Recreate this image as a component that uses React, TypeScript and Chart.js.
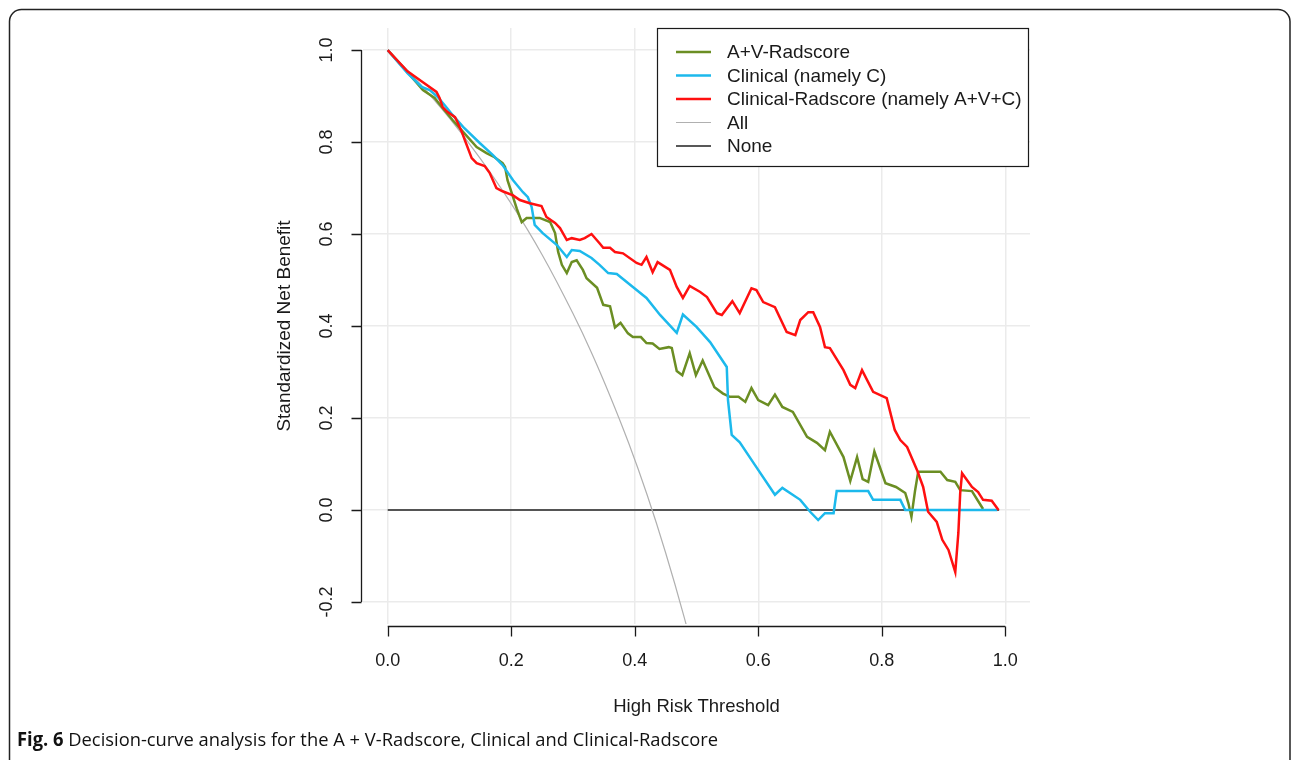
import React, { useEffect, useRef } from "react";
import { Chart, registerables } from "chart.js";

Chart.register(...registerables);

// ---------- data ----------
const xTicks = [0, 0.2, 0.4, 0.6, 0.8, 1.0];
const yTicks = [-0.2, 0, 0.2, 0.4, 0.6, 0.8, 1.0];
const xTickLabels = ["0.0", "0.2", "0.4", "0.6", "0.8", "1.0"];
const yTickLabels = ["-0.2", "0.0", "0.2", "0.4", "0.6", "0.8", "1.0"];
const xTitle = "High Risk Threshold";
const yTitle = "Standardized Net Benefit";
const seriesNames = [
  "A+V-Radscore",
  "Clinical (namely C)",
  "Clinical-Radscore (namely A+V+C)",
  "All",
  "None",
];
const captionBold = "Fig. 6";
const captionText = " Decision-curve analysis for the A + V-Radscore, Clinical and Clinical-Radscore";

const greenT = [0, 0.032, 0.057, 0.076, 0.089, 0.105, 0.122, 0.144, 0.16, 0.173, 0.186, 0.19, 0.194, 0.203, 0.209, 0.217, 0.225, 0.246, 0.263, 0.271, 0.276, 0.282, 0.29, 0.298, 0.306, 0.316, 0.322, 0.339, 0.349, 0.36, 0.368, 0.377, 0.389, 0.397, 0.41, 0.419, 0.429, 0.44, 0.455, 0.46, 0.468, 0.477, 0.489, 0.499, 0.51, 0.529, 0.543, 0.554, 0.568, 0.579, 0.589, 0.6, 0.616, 0.627, 0.639, 0.656, 0.679, 0.695, 0.708, 0.716, 0.738, 0.749, 0.76, 0.769, 0.778, 0.788, 0.806, 0.823, 0.838, 0.843, 0.848, 0.854, 0.859, 0.895, 0.906, 0.919, 0.927, 0.946, 0.964];
const greenV = [1.0, 0.952, 0.913, 0.896, 0.874, 0.848, 0.822, 0.789, 0.776, 0.767, 0.754, 0.746, 0.717, 0.68, 0.655, 0.626, 0.635, 0.635, 0.626, 0.602, 0.561, 0.533, 0.515, 0.539, 0.543, 0.522, 0.504, 0.483, 0.446, 0.443, 0.397, 0.407, 0.384, 0.376, 0.376, 0.363, 0.362, 0.35, 0.354, 0.352, 0.302, 0.293, 0.341, 0.293, 0.325, 0.267, 0.253, 0.246, 0.246, 0.235, 0.265, 0.239, 0.228, 0.251, 0.224, 0.213, 0.159, 0.146, 0.13, 0.17, 0.115, 0.063, 0.115, 0.067, 0.061, 0.127, 0.058, 0.05, 0.037, 0.015, -0.015, 0.043, 0.083, 0.083, 0.065, 0.061, 0.043, 0.041, 0.002];

const blueT = [0, 0.032, 0.055, 0.068, 0.081, 0.096, 0.105, 0.122, 0.149, 0.17, 0.186, 0.203, 0.219, 0.227, 0.233, 0.238, 0.251, 0.274, 0.29, 0.298, 0.311, 0.33, 0.343, 0.357, 0.371, 0.397, 0.419, 0.441, 0.468, 0.478, 0.5, 0.522, 0.549, 0.551, 0.557, 0.57, 0.595, 0.627, 0.639, 0.668, 0.684, 0.697, 0.708, 0.722, 0.727, 0.778, 0.786, 0.83, 0.838, 0.987];
const blueV = [1.0, 0.95, 0.92, 0.913, 0.898, 0.874, 0.859, 0.833, 0.798, 0.772, 0.75, 0.717, 0.691, 0.68, 0.659, 0.62, 0.602, 0.576, 0.55, 0.565, 0.563, 0.548, 0.533, 0.515, 0.513, 0.485, 0.461, 0.424, 0.385, 0.425, 0.398, 0.365, 0.311, 0.239, 0.163, 0.147, 0.097, 0.033, 0.048, 0.022, -0.004, -0.022, -0.007, -0.007, 0.041, 0.041, 0.022, 0.022, 0.0, 0.0];

const redT = [0, 0.032, 0.057, 0.079, 0.084, 0.089, 0.097, 0.109, 0.113, 0.12, 0.125, 0.136, 0.144, 0.157, 0.165, 0.176, 0.186, 0.203, 0.214, 0.23, 0.249, 0.257, 0.271, 0.279, 0.29, 0.298, 0.311, 0.319, 0.33, 0.343, 0.349, 0.36, 0.368, 0.381, 0.403, 0.411, 0.419, 0.429, 0.437, 0.457, 0.468, 0.478, 0.489, 0.506, 0.517, 0.533, 0.541, 0.558, 0.57, 0.589, 0.597, 0.608, 0.627, 0.646, 0.66, 0.668, 0.681, 0.689, 0.7, 0.708, 0.716, 0.738, 0.749, 0.757, 0.768, 0.786, 0.808, 0.821, 0.83, 0.841, 0.857, 0.867, 0.875, 0.889, 0.898, 0.908, 0.919, 0.924, 0.927, 0.93, 0.946, 0.956, 0.964, 0.978, 0.989];
const redV = [1.0, 0.954, 0.93, 0.909, 0.896, 0.876, 0.865, 0.854, 0.843, 0.822, 0.804, 0.765, 0.754, 0.748, 0.733, 0.7, 0.693, 0.684, 0.674, 0.667, 0.661, 0.637, 0.624, 0.613, 0.587, 0.591, 0.587, 0.591, 0.6, 0.58, 0.57, 0.57, 0.561, 0.558, 0.537, 0.533, 0.55, 0.517, 0.539, 0.522, 0.485, 0.461, 0.487, 0.474, 0.463, 0.428, 0.424, 0.454, 0.428, 0.482, 0.478, 0.452, 0.441, 0.387, 0.38, 0.413, 0.43, 0.43, 0.398, 0.354, 0.352, 0.304, 0.272, 0.265, 0.304, 0.257, 0.243, 0.174, 0.152, 0.137, 0.087, 0.05, -0.004, -0.026, -0.065, -0.087, -0.135, -0.05, 0.037, 0.08, 0.05, 0.039, 0.022, 0.02, 0.0];

const allT = [0, 0.05, 0.1, 0.15, 0.2, 0.25, 0.3, 0.33, 0.36, 0.39, 0.42, 0.45, 0.48, 0.5];
const allV = [1.0, 0.93, 0.852, 0.764, 0.666, 0.555, 0.427, 0.342, 0.248, 0.146, 0.033, -0.093, -0.233, -0.336];

const noneT = [0, 0.99];
const noneV = [0, 0];

const colors = ["#6b8e23", "#1cb9ec", "#ff1010", "#b0b0b0", "#202020"];
const widths = [2.5, 2.5, 2.5, 1.2, 1.5];

const toPts = (t: number[], v: number[]) => t.map((x, i) => ({ x, y: v[i] }));

const FONT = '"Liberation Sans", Arial, sans-serif';

const decorPlugin = {
  id: "rDecor",
  afterDraw(chart: any) {
    const ctx: CanvasRenderingContext2D = chart.ctx;
    const xs = chart.scales.x;
    const ys = chart.scales.y;
    const ca = chart.chartArea;
    ctx.save();
    ctx.strokeStyle = "#1a1a1a";
    ctx.fillStyle = "#1a1a1a";
    ctx.lineWidth = 1.3;

    // y axis
    const yAxisX = ca.left - 1.5;
    const yTop = ys.getPixelForValue(yTicks[yTicks.length - 1]);
    const yBot = ys.getPixelForValue(yTicks[0]);
    ctx.beginPath();
    ctx.moveTo(yAxisX, yTop);
    ctx.lineTo(yAxisX, yBot);
    yTicks.forEach((v) => {
      const py = Math.round(ys.getPixelForValue(v)) + 0.5;
      ctx.moveTo(yAxisX, py);
      ctx.lineTo(yAxisX - 10, py);
    });
    ctx.stroke();
    ctx.font = `18px ${FONT}`;
    ctx.textAlign = "center";
    ctx.textBaseline = "middle";
    yTicks.forEach((v, i) => {
      const py = ys.getPixelForValue(v);
      ctx.save();
      ctx.translate(yAxisX - 34, py);
      ctx.rotate(-Math.PI / 2);
      ctx.fillText(yTickLabels[i], 0, 0);
      ctx.restore();
    });
    // y title
    ctx.save();
    ctx.font = `19px ${FONT}`;
    ctx.translate(285, (ca.top + ca.bottom) / 2);
    ctx.rotate(-Math.PI / 2);
    ctx.fillText(yTitle, 0, 0);
    ctx.restore();

    // x axis
    const xAxisY = ca.bottom + 2.5;
    const xL = xs.getPixelForValue(xTicks[0]);
    const xR = xs.getPixelForValue(xTicks[xTicks.length - 1]);
    ctx.beginPath();
    ctx.moveTo(xL, xAxisY);
    ctx.lineTo(xR, xAxisY);
    xTicks.forEach((v) => {
      const px = Math.round(xs.getPixelForValue(v)) + 0.5;
      ctx.moveTo(px, xAxisY);
      ctx.lineTo(px, xAxisY + 10);
    });
    ctx.stroke();
    ctx.font = `18px ${FONT}`;
    xTicks.forEach((v, i) => {
      ctx.fillText(xTickLabels[i], xs.getPixelForValue(v), xAxisY + 35);
    });
    ctx.font = `18.5px ${FONT}`;
    ctx.fillText(xTitle, (xL + xR) / 2, xAxisY + 80);

    // legend
    const lx = 657.5, ly = 28.5, lw = 371, lh = 138;
    ctx.fillStyle = "#ffffff";
    ctx.fillRect(lx, ly, lw, lh);
    ctx.strokeStyle = "#1a1a1a";
    ctx.lineWidth = 1.2;
    ctx.strokeRect(lx, ly, lw, lh);
    ctx.font = `19px ${FONT}`;
    ctx.textAlign = "left";
    seriesNames.forEach((name, i) => {
      const yy = 52 + i * 23.5;
      ctx.strokeStyle = colors[i];
      ctx.lineWidth = widths[i];
      ctx.beginPath();
      ctx.moveTo(676, yy);
      ctx.lineTo(711, yy);
      ctx.stroke();
      ctx.fillStyle = "#1a1a1a";
      ctx.fillText(name, 727, yy + 1);
    });

    // caption
    ctx.textBaseline = "middle";
    ctx.font = `bold 19px "Open Sans", ${FONT}`;
    const wb = ctx.measureText(captionBold).width;
    ctx.font = `19px "Open Sans", ${FONT}`;
    const wt = ctx.measureText(captionText).width;
    const sx = (718 - 17) / (wb + wt);
    ctx.save();
    ctx.translate(17, 741);
    ctx.scale(sx, 1);
    ctx.fillStyle = "#111";
    ctx.font = `bold 19px "Open Sans", ${FONT}`;
    ctx.fillText(captionBold, 0, 0);
    ctx.font = `19px "Open Sans", ${FONT}`;
    ctx.fillText(captionText, wb, 0);
    ctx.restore();

    // figure border
    ctx.strokeStyle = "#222";
    ctx.lineWidth = 1.5;
    const r = 12, L = 9.5, T = 9.5, R = 1290;
    ctx.beginPath();
    ctx.moveTo(L, 800);
    ctx.lineTo(L, T + r);
    ctx.arcTo(L, T, L + r, T, r);
    ctx.lineTo(R - r, T);
    ctx.arcTo(R, T, R, T + r, r);
    ctx.lineTo(R, 800);
    ctx.stroke();
    ctx.restore();
  },
};

export default function App() {
  const ref = useRef<HTMLCanvasElement | null>(null);
  useEffect(() => {
    if (!ref.current) return;
    const sets = [
      toPts(greenT, greenV),
      toPts(blueT, blueV),
      toPts(redT, redV),
      toPts(allT, allV),
      toPts(noneT, noneV),
    ];
    const orders = [3, 2, 1, 4, 5];
    const chart = new Chart(ref.current, {
      type: "line",
      data: {
        datasets: sets.map((d, i) => ({
          label: seriesNames[i],
          data: d,
          borderColor: colors[i],
          borderWidth: widths[i],
          pointRadius: 0,
          fill: false,
          tension: 0,
          cubicInterpolationMode: i === 3 ? "monotone" : "default",
          order: orders[i],
        })),
      },
      options: {
        responsive: false,
        animation: false,
        events: [],
        layout: { padding: { left: 363, right: 265, top: 28, bottom: 136 } },
        plugins: { legend: { display: false }, tooltip: { enabled: false } },
        scales: {
          x: {
            type: "linear",
            min: -0.04,
            max: 1.04,
            afterBuildTicks: (axis: any) => {
              axis.ticks = xTicks.map((v) => ({ value: v }));
            },
            ticks: { display: false },
            border: { display: false },
            grid: { color: "#ebebeb", lineWidth: 1.5, drawTicks: false },
          },
          y: {
            type: "linear",
            min: -0.248,
            max: 1.048,
            afterBuildTicks: (axis: any) => {
              axis.ticks = yTicks.map((v) => ({ value: v }));
            },
            ticks: { display: false },
            border: { display: false },
            grid: { color: "#ebebeb", lineWidth: 1.5, drawTicks: false },
          },
        },
      } as any,
      plugins: [decorPlugin],
    });
    return () => chart.destroy();
  }, []);
  return (
    <div style={{ position: "absolute", left: 0, top: 0, width: 1295, height: 760, background: "#fff" }}>
      <canvas ref={ref} width={1295} height={760} style={{ display: "block" }} />
    </div>
  );
}
